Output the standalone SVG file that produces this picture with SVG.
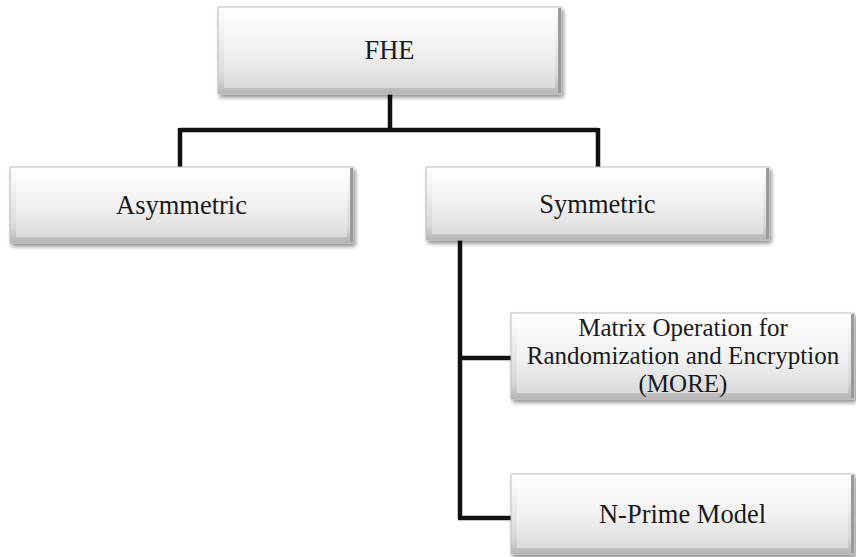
<svg xmlns="http://www.w3.org/2000/svg" width="856" height="557" viewBox="0 0 856 557">
  <defs>
    <linearGradient id="face" x1="0" y1="0" x2="0" y2="1">
      <stop offset="0" stop-color="#fdfdfd"/>
      <stop offset="0.55" stop-color="#f0f0f0"/>
      <stop offset="1" stop-color="#dadada"/>
    </linearGradient>
    <linearGradient id="rim" x1="0" y1="0" x2="0" y2="1">
      <stop offset="0" stop-color="#ffffff"/>
      <stop offset="0.8" stop-color="#d8d8d8"/>
      <stop offset="1" stop-color="#b4b4b4"/>
    </linearGradient>
    <filter id="shadow" x="-5%" y="-10%" width="115%" height="130%">
      <feGaussianBlur in="SourceAlpha" stdDeviation="2"/>
      <feOffset dx="2" dy="3" result="b"/>
      <feComponentTransfer><feFuncA type="linear" slope="0.45"/></feComponentTransfer>
      <feMerge><feMergeNode/><feMergeNode in="SourceGraphic"/></feMerge>
    </filter>
  </defs>
  <style>
    .box { fill: url(#rim); stroke: #bdbdbd; stroke-width: 1; filter: url(#shadow); }
    .inner { fill: url(#face); stroke: none; }
    .edge-r { fill: #9a9a9a; }
    .label { font-family: "Liberation Serif", "Times New Roman", serif; font-size: 26.5px; fill: #1a1a1a; text-anchor: middle; }
    .label.small { font-size: 25px; }
    .wire { fill: none; stroke: #111; stroke-width: 4.5; stroke-linejoin: miter; stroke-linecap: butt; }
  </style>

  <!-- connectors -->
  <g id="connectors">
    <path class="wire" d="M390 94 V130 M180 130 H598 M180 128 V167 M598 128 V167"/>
    <path class="wire" d="M460 240 V518 M458 358 H511 M458 518 H511"/>
  </g>

  <!-- FHE -->
  <g id="node-fhe">
    <rect class="box" x="218" y="7" width="343" height="87"/>
    <rect class="inner" x="224" y="13" width="331" height="75"/>
    <rect class="edge-r" x="558" y="8" width="3" height="85"/>
    <text class="label" x="389.5" y="59">FHE</text>
  </g>

  <!-- Asymmetric -->
  <g id="node-asymmetric">
    <rect class="box" x="10" y="167" width="343" height="76"/>
    <rect class="inner" x="16" y="173" width="331" height="64"/>
    <rect class="edge-r" x="350" y="168" width="3" height="74"/>
    <text class="label" x="181.5" y="214">Asymmetric</text>
  </g>

  <!-- Symmetric -->
  <g id="node-symmetric">
    <rect class="box" x="426" y="167" width="343" height="73"/>
    <rect class="inner" x="432" y="173" width="331" height="61"/>
    <rect class="edge-r" x="766" y="168" width="3" height="71"/>
    <text class="label" x="597.5" y="213">Symmetric</text>
  </g>

  <!-- MORE: three centred lines -->
  <g id="node-more">
    <rect class="box" x="511" y="313" width="343" height="86"/>
    <rect class="inner" x="517" y="319" width="331" height="74"/>
    <rect class="edge-r" x="851" y="314" width="3" height="84"/>
    <text class="label small" x="683" y="336">Matrix Operation for</text>
    <text class="label small" x="683" y="364">Randomization and Encryption</text>
    <text class="label small" x="683" y="392">(MORE)</text>
  </g>

  <!-- N-Prime Model -->
  <g id="node-nprime">
    <rect class="box" x="511" y="474" width="343" height="80"/>
    <rect class="inner" x="517" y="480" width="331" height="68"/>
    <rect class="edge-r" x="851" y="475" width="3" height="78"/>
    <text class="label" x="682.5" y="523">N-Prime Model</text>
  </g>
</svg>
